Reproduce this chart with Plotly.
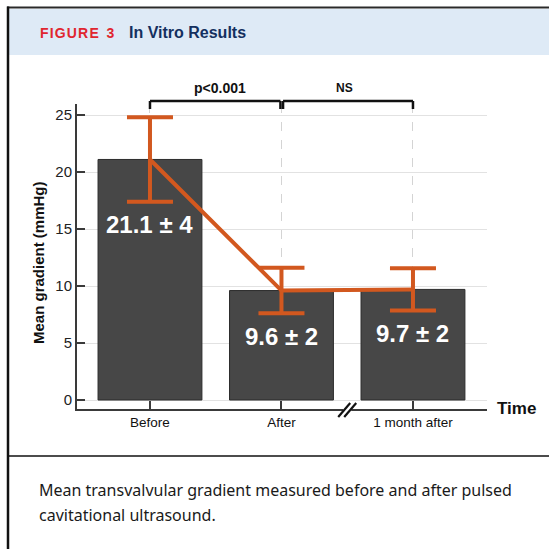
import plotly.graph_objects as go

# ---- data ----
categories = ["Before", "After", "1 month after"]
means = [21.1, 9.6, 9.7]
err_half = [3.7, 2.0, 1.85]
sd_labels = ["4", "2", "2"]
label_y = [15.4, 5.6, 5.8]
y_ticks = [0, 5, 10, 15, 20, 25]
comparisons = [("p<0.001", 0, 1), ("NS", 1, 2)]

W = H = 549
PX0, PX1 = 77, 487   # plot area left/right in pixels
PY0, PY1 = 104, 409  # plot area top/bottom in pixels

def fx(px):
    return px / W

def fy(py):
    return 1 - py / H

ORANGE = "#D2581F"
BAR = "#474747"
AX = "#3a3a3a"
SANS = "Liberation Sans, Arial, sans-serif"

fig = go.Figure()
fig.add_trace(go.Bar(
    x=categories, y=means, width=0.79,
    marker=dict(color=BAR, line=dict(color="#2b2b2b", width=1)),
    hoverinfo="skip", showlegend=False,
))
fig.add_trace(go.Scatter(
    x=categories, y=means, mode="lines",
    line=dict(color=ORANGE, width=4),
    error_y=dict(type="data", array=err_half, symmetric=True,
                 color=ORANGE, thickness=4, width=23),
    hoverinfo="skip", showlegend=False,
))

# value labels on bars
for c, m, s, ly in zip(categories, means, sd_labels, label_y):
    fig.add_annotation(x=c, y=ly, xref="x", yref="y", text=f"<b>{m} ± {s}</b>",
                       showarrow=False, xanchor="center", yanchor="middle",
                       font=dict(family=SANS, size=24, color="white"))

shapes = []
# frame / header
shapes.append(dict(type="rect", xref="paper", yref="paper", x0=fx(9), x1=fx(560),
                   y0=fy(55), y1=fy(9), fillcolor="#DEEAF6", line=dict(width=0), layer="below"))
shapes.append(dict(type="line", xref="paper", yref="paper", x0=fx(7), x1=fx(560),
                   y0=fy(7.5), y1=fy(7.5), line=dict(color="#2a2a2a", width=2)))
shapes.append(dict(type="line", xref="paper", yref="paper", x0=fx(8), x1=fx(8),
                   y0=fy(6.5), y1=fy(560), line=dict(color="#111", width=2.5)))
shapes.append(dict(type="line", xref="paper", yref="paper", x0=fx(8), x1=fx(560),
                   y0=fy(456), y1=fy(456), line=dict(color="#111", width=1.6)))

# significance brackets
for lab, a, b in comparisons:
    a2 = a + (0.012 if a > 0 else 0)
    b2 = b - (0.008 if a == 0 else 0)
    for x0, x1, y0, y1 in [(a2, b2, 3, 3), (a2, a2, 3, -5), (b2, b2, 3, -5)]:
        shapes.append(dict(type="line", xref="x", yref="paper", ysizemode="pixel",
                           yanchor=fy(PY0), x0=x0, x1=x1, y0=y0, y1=y1,
                           line=dict(color="#111", width=2.5)))
    fig.add_annotation(x=(a + b) / 2 + (0.03 if a == 0 else -0.02), xref="x",
                       y=fy(88), yref="paper", text=f"<b>{lab}</b>", showarrow=False,
                       xanchor="center", yanchor="middle",
                       font=dict(family=SANS, size=14 if a == 0 else 12, color="#111"))

# axis break marks between After and 1 month after
shapes.append(dict(type="line", xref="x", yref="paper", xsizemode="pixel", ysizemode="pixel",
                   xanchor=1.5, yanchor=fy(PY1), x0=-4, x1=4, y0=0, y1=0,
                   line=dict(color="white", width=4)))
for dx in (-3, 3):
    shapes.append(dict(type="line", xref="x", yref="paper", xsizemode="pixel", ysizemode="pixel",
                       xanchor=1.5, yanchor=fy(PY1), x0=dx - 6, x1=dx + 6, y0=-8, y1=6,
                       line=dict(color="#111", width=2.2)))

fig.update_layout(shapes=shapes)

# header text
fig.add_annotation(x=fx(38), y=fy(33), xref="paper", yref="paper", xanchor="left", yanchor="middle",
                   text="<b>F\u200aI\u200aG\u200aU\u200aR\u200aE\u00a0\u00a03</b>", showarrow=False,
                   font=dict(family=SANS, size=14, color="#E0262F"))
fig.add_annotation(x=fx(127), y=fy(33), xref="paper", yref="paper", xanchor="left", yanchor="middle",
                   text="<b>In Vitro Results</b>", showarrow=False,
                   font=dict(family=SANS, size=16, color="#14305F"))
# caption
for txt, py in [("Mean transvalvular gradient measured before and after pulsed", 490),
                ("cavitational ultrasound.", 515)]:
    fig.add_annotation(x=fx(37), y=fy(py), xref="paper", yref="paper", xanchor="left",
                       yanchor="middle", text=txt, showarrow=False,
                       font=dict(family="Noto Sans, sans-serif", size=16, color="#1a1a1a"))
# y title
fig.add_annotation(x=fx(39), y=fy(263), xref="paper", yref="paper", textangle=-90,
                   xanchor="center", yanchor="middle",
                   text="<b>Mean gradient (mmHg)</b>", showarrow=False,
                   font=dict(family=SANS, size=15, color="#111"))
# Time label
fig.add_annotation(x=fx(495), y=fy(408), xref="paper", yref="paper", xanchor="left",
                   yanchor="middle",
                   text="<b>Time</b>", showarrow=False,
                   font=dict(family=SANS, size=17, color="#111"))

# axes
y_lo = (PY1 - 400) / ((400 - 115) / 25)
y_hi = 25 + (115 - PY0) / ((400 - 115) / 25)
fig.update_layout(
    width=W, height=H, margin=dict(l=0, r=0, t=0, b=0),
    paper_bgcolor="white", plot_bgcolor="white",
    xaxis=dict(domain=[fx(PX0), fx(PX1)], range=[-0.555, 2.563],
               showline=True, linecolor=AX, linewidth=2,
               ticks="inside", ticklen=8, tickcolor=AX, tickwidth=1.5,
               showgrid=True, gridcolor="#d4d4d4", griddash="dash", gridwidth=1,
               tickfont=dict(family=SANS, size=13.5, color="#111"),
               fixedrange=True),
    yaxis=dict(domain=[fy(PY1), fy(PY0)], range=[-y_lo, y_hi],
               tickvals=y_ticks, showline=True, linecolor=AX, linewidth=2,
               ticks="inside", ticklen=8, tickcolor=AX, tickwidth=1.5,
               showgrid=True, gridcolor="#e2e2e2", gridwidth=1, zeroline=False,
               tickfont=dict(family=SANS, size=15, color="#222"),
               fixedrange=True),
    bargap=0.2,
)

fig.write_html("out.html", config={"displayModeBar": False},
               post_script="document.body.style.margin='0px';document.body.style.overflow='hidden';")
